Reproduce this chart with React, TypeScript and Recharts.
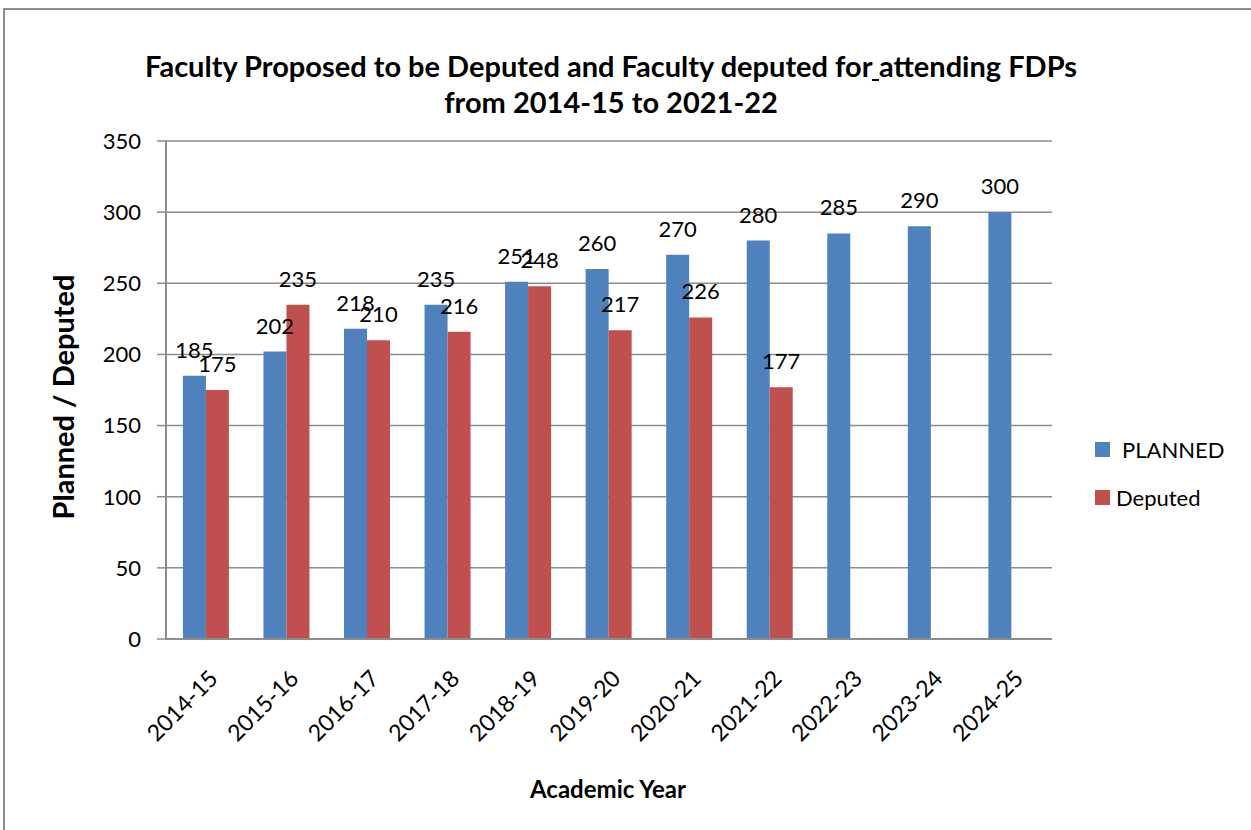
import { Bar, BarChart, CartesianGrid, LabelList, XAxis, YAxis } from "recharts"

const years = ["2014-15", "2015-16", "2016-17", "2017-18", "2018-19", "2019-20", "2020-21", "2021-22", "2022-23", "2023-24", "2024-25"]
const planned = [185, 202, 218, 235, 251, 260, 270, 280, 285, 290, 300]
const deputed: (number | null)[] = [175, 235, 210, 216, 248, 217, 226, 177, null, null, null]
const yTicks = [0, 50, 100, 150, 200, 250, 300, 350]

const data = years.map((year, i) => ({ year, planned: planned[i], deputed: deputed[i] }))

const FONT = "Lato, 'Open Sans', sans-serif"
const BLUE = "#4F81BD"
const RED = "#C0504D"
const GRID = "#8c8c8c"

const XTick = (props: any) => {
  const { x, y, payload } = props
  return (
    <g transform={`translate(${x + 13},${y + 33})`}>
      <text transform="rotate(-45)" textAnchor="end" fontSize={23} fill="#000" fontFamily={FONT}>
        {payload.value}
      </text>
    </g>
  )
}

const legendItems = [
  { name: "PLANNED", color: BLUE, gap: 12 },
  { name: "Deputed", color: RED, gap: 6 },
]

export default function App() {
  return (
    <div style={{ position: "absolute", left: 0, top: 0, width: 1251, height: 830, overflow: "hidden", background: "#fff" }}>
      <div style={{ position: "absolute", left: 3, top: 8, width: 1300, height: 900, border: "2px solid #8c8c8c" }} />
      <div
        style={{
          position: "absolute",
          left: 0,
          top: 48,
          width: 1222,
          textAlign: "center",
          fontFamily: FONT,
          fontWeight: 700,
          fontSize: 29,
          lineHeight: "36px",
          color: "#000",
          whiteSpace: "nowrap",
        }}
      >
        Faculty Proposed to be Deputed and Faculty deputed for<span style={{ textDecoration: "underline" }}> </span>attending FDPs
        <br />
        from 2014-15 to 2021-22
      </div>
      <div
        style={{
          position: "absolute",
          left: 62,
          top: 397,
          transform: "translate(-50%, -50%) rotate(-90deg)",
          whiteSpace: "nowrap",
          fontFamily: FONT,
          fontWeight: 700,
          fontSize: 29,
          color: "#000",
        }}
      >
        Planned / Deputed
      </div>
      <div
        style={{
          position: "absolute",
          left: 608,
          top: 788,
          transform: "translate(-50%, -50%)",
          whiteSpace: "nowrap",
          fontFamily: FONT,
          fontWeight: 700,
          fontSize: 24,
          color: "#000",
        }}
      >
        Academic Year
      </div>
      <div style={{ position: "absolute", left: 1095, top: 434, fontFamily: FONT, fontSize: 22, color: "#000" }}>
        {legendItems.map((item) => (
          <div key={item.name} style={{ display: "flex", alignItems: "center", height: 30, marginBottom: 18 }}>
            <span style={{ width: 15, height: 15, background: item.color, display: "inline-block", marginRight: item.gap }} />
            {item.name}
          </div>
        ))}
      </div>
      <div style={{ position: "absolute", left: 0, top: 0 }}>
        <BarChart
          width={1251}
          height={830}
          data={data}
          margin={{ top: 141, right: 199, left: 100, bottom: 51 }}
          barCategoryGap="21%"
          barGap={0}
        >
          <CartesianGrid vertical={false} stroke={GRID} strokeWidth={1.5} />
          <XAxis dataKey="year" height={140} tick={<XTick />} tickLine={false} axisLine={{ stroke: GRID, strokeWidth: 2 }} interval={0} />
          <YAxis
            width={66}
            domain={[0, 350]}
            ticks={yTicks}
            interval={0}
            tickSize={9}
            tickMargin={16}
            tick={{ fontSize: 22, fill: "#000", fontFamily: FONT }}
            tickLine={{ stroke: GRID, strokeWidth: 1.5 }}
            axisLine={{ stroke: GRID, strokeWidth: 2 }}
          />
          <Bar dataKey="planned" name="PLANNED" fill={BLUE} isAnimationActive={false}>
            <LabelList dataKey="planned" position="top" offset={18} fill="#000" fontSize={22} fontFamily={FONT} />
          </Bar>
          <Bar dataKey="deputed" name="Deputed" fill={RED} isAnimationActive={false}>
            <LabelList dataKey="deputed" position="top" offset={18} fill="#000" fontSize={22} fontFamily={FONT} />
          </Bar>
        </BarChart>
      </div>
    </div>
  )
}
